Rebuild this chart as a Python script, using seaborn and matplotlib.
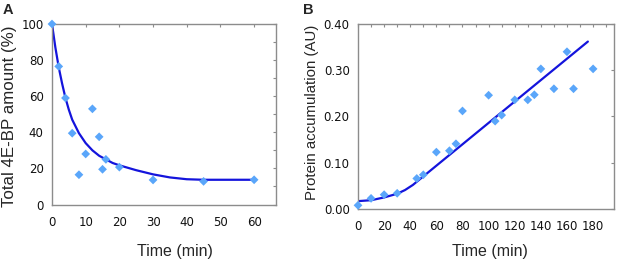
import matplotlib

matplotlib.use("Agg")
import matplotlib.pyplot as plt
import pandas as pd
import seaborn as sns
from matplotlib.ticker import FormatStrFormatter, MultipleLocator

# Panel A: total 4E-BP amount over time
a_time = [0, 2, 4, 6, 8, 10, 12, 14, 15, 16, 20, 30, 45, 60]
a_amount = [100, 76.5, 59, 39.5, 16.5, 28, 53, 37.5, 19.5, 25, 20.7, 13.6, 12.8, 13.7]
a_fit_time = [0, 1, 2, 3, 4, 5, 6, 8, 10, 12, 14, 16, 18, 20, 25, 30, 35, 40, 45, 50, 60]
a_fit_amount = [100, 87, 76, 67, 59, 52.5, 47, 39.5, 34, 30, 27, 25, 23, 21.7, 19, 16.7, 15, 14, 13.7, 13.7, 13.7]

# Panel B: protein accumulation over time
b_time = [0, 10, 20, 30, 45, 50, 60, 70, 75, 80, 100, 105, 110, 120, 130, 135, 140, 150, 160, 165, 180]
b_accum = [0.008, 0.023, 0.031, 0.034, 0.066, 0.074, 0.123, 0.126, 0.141, 0.212,
           0.246, 0.190, 0.203, 0.236, 0.236, 0.247, 0.303, 0.260, 0.340, 0.260, 0.303]
b_fit_time = [0, 10, 20, 30, 36, 42, 176]
b_fit_accum = [0.017, 0.019, 0.025, 0.033, 0.041, 0.052, 0.362]

POINT_COLOR = "#5aa6fa"
LINE_COLOR = "#1414dc"
SPINE_COLOR = "#8c8c8c"

sns.set_theme(style="white")
plt.rcParams["font.family"] = ["DejaVu Sans"]


def style_axes(ax):
    for spine in ax.spines.values():
        spine.set_color(SPINE_COLOR)
        spine.set_linewidth(1.0)
    ax.tick_params(which="both", direction="in", length=2.5, width=0.8,
                   color=SPINE_COLOR, top=True, right=True,
                   labelsize=8.5, labelcolor="#111111")
    ax.tick_params(axis="x", which="both", pad=8)
    ax.tick_params(axis="y", which="both", pad=6)


fig = plt.figure(figsize=(6.24, 2.64), dpi=100)
ax_a = fig.add_axes([52 / 624, 1 - 204.5 / 264, 224 / 624, 180.5 / 264])
ax_b = fig.add_axes([358 / 624, 1 - 209 / 264, 256 / 624, 185 / 264])

df_a = pd.DataFrame({"time": a_time, "amount": a_amount})
fit_a = pd.DataFrame({"time": a_fit_time, "amount": a_fit_amount})
sns.lineplot(data=fit_a, x="time", y="amount", ax=ax_a, color=LINE_COLOR,
             linewidth=1.6, sort=False, estimator=None, zorder=2)
sns.scatterplot(data=df_a, x="time", y="amount", ax=ax_a, marker="D", s=20,
                color=POINT_COLOR, edgecolor="none", zorder=3, clip_on=False)
ax_a.set_xlim(0, 66.5)
ax_a.set_ylim(0, 100)
ax_a.xaxis.set_major_locator(MultipleLocator(10))
ax_a.yaxis.set_major_locator(MultipleLocator(20))
ax_a.yaxis.set_minor_locator(MultipleLocator(10))
style_axes(ax_a)
ax_a.set_xlabel("Time (min)", family=["Liberation Sans"], fontsize=11.5)
ax_a.set_ylabel("Total 4E-BP amount (%)", family=["Liberation Sans"], fontsize=12.2)
ax_a.xaxis.set_label_coords(0.549, -0.263)
ax_a.xaxis.label.set_va("center")
ax_a.yaxis.set_label_coords(-0.19, 0.49)
ax_a.yaxis.label.set_va("center")

df_b = pd.DataFrame({"time": b_time, "accum": b_accum})
fit_b = pd.DataFrame({"time": b_fit_time, "accum": b_fit_accum})
sns.lineplot(data=fit_b, x="time", y="accum", ax=ax_b, color=LINE_COLOR,
             linewidth=1.6, sort=False, estimator=None, zorder=2)
sns.scatterplot(data=df_b, x="time", y="accum", ax=ax_b, marker="D", s=20,
                color=POINT_COLOR, edgecolor="none", zorder=3, clip_on=False)
ax_b.set_xlim(0, 196)
ax_b.set_ylim(0, 0.40)
ax_b.xaxis.set_major_locator(MultipleLocator(20))
ax_b.xaxis.set_minor_locator(MultipleLocator(10))
ax_b.yaxis.set_major_locator(MultipleLocator(0.10))
ax_b.yaxis.set_major_formatter(FormatStrFormatter("%.2f"))
style_axes(ax_b)
ax_b.set_xlabel("Time (min)", family=["Liberation Sans"], fontsize=11.5)
ax_b.set_ylabel("Protein accumulation (AU)", family=["Liberation Sans"], fontsize=10.8)
ax_b.xaxis.set_label_coords(0.514, -0.23)
ax_b.xaxis.label.set_va("center")
ax_b.yaxis.set_label_coords(-0.178, 0.52)
ax_b.yaxis.label.set_va("center")

fig.text(3 / 624, 1 - 3 / 264, "A", family=["Liberation Sans"], fontsize=10.5,
         fontweight="bold", va="top", ha="left")
fig.text(303 / 624, 1 - 3 / 264, "B", family=["Liberation Sans"], fontsize=10.5,
         fontweight="bold", va="top", ha="left")

fig.savefig("out.png", dpi=100)
plt.close(fig)
